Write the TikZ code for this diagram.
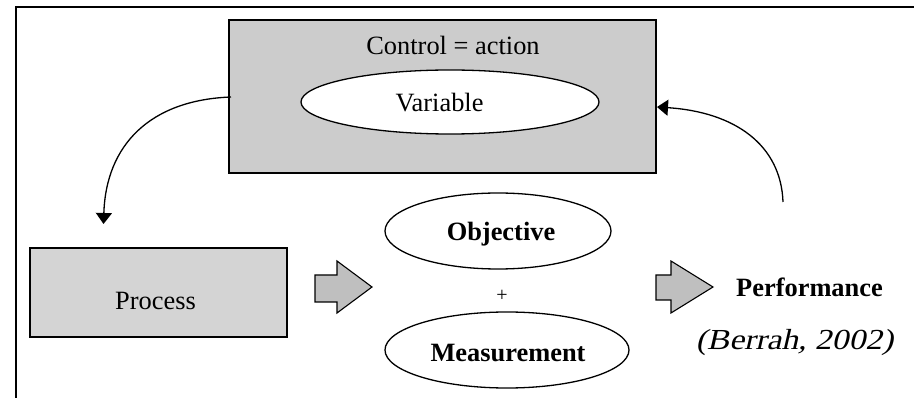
\documentclass[tikz,border=0pt]{standalone}
\usepackage{fontspec}
\setmainfont{Liberation Serif}
% slanted serif face for the citation
\newfontfamily\citefont{Liberation Serif}[FakeSlant=0.2]
\usetikzlibrary{shapes.geometric,arrows.meta}

\tikzset{
  txt/.style={anchor=base, inner sep=0pt, font=\fontsize{26.4}{30}\selectfont},
  greybox/.style={draw=black, line width=1.6pt, inner sep=0pt},
  oval/.style={ellipse, draw=black, fill=white, line width=1.3pt, inner sep=0pt},
  curved/.style={line width=1.3pt, -{Triangle[length=11pt,width=16pt]}},
  blockarrow/.style={draw=black, fill=black!25, line width=1.1pt, line join=miter}
}

\begin{document}
\begin{tikzpicture}[x=1pt,y=-1pt]
  \useasboundingbox (0,0) rectangle (914,398);

  % outer frame (open to the right and bottom)
  \draw[line width=1.6pt] (920,7) -- (16,7) -- (16,404);

  % control block
  \node[greybox, fill=black!20, minimum width=427pt, minimum height=153pt] (ctrl) at (442.5,96.5) {};
  \node[txt] (ctrltxt) at (453,55) {Control = action};
  \node[oval, minimum width=298pt, minimum height=64pt] (var) at (450,102) {};
  \node[txt] (vartxt) at (439.5,112) {Variable};

  % process block
  \node[greybox, fill=black!17, minimum width=257pt, minimum height=89pt] (proc) at (158.5,292.5) {};
  \node[txt] (proctxt) at (155.5,310) {Process};

  % objective + measurement
  \node[oval, minimum width=226pt, minimum height=76pt] (obj) at (498,231) {};
  \node[txt, font=\fontsize{26.4}{30}\selectfont\bfseries] (objtxt) at (501,241) {Objective};
  \node[txt, font=\fontsize{20}{24}\selectfont] (plus) at (502,302) {+};
  \node[oval, minimum width=244pt, minimum height=76pt] (meas) at (507,350) {};
  \node[txt, font=\fontsize{26.4}{30}\selectfont\bfseries] (meastxt) at (508,362) {Measurement};

  % performance
  \node[txt, font=\fontsize{26.4}{30}\selectfont\bfseries] (perf) at (809.5,297) {Performance};
  \node[txt] (src) at (794.5,350) {\scalebox{1.27}[1.1]{\citefont (Berrah, 2002)}};

  % block arrows
  \path[blockarrow] (315,275) -- (337,275) -- (337,261) -- (372,287) -- (337,313)
        -- (337,302) -- (315,302) -- cycle;
  \path[blockarrow] (656,275) -- (671,275) -- (671,261) -- (713,287) -- (671,313)
        -- (671,300) -- (656,300) -- cycle;

  % feedback loop
  \coordinate (outL) at (231,97);
  \coordinate (inP) at (103.5,224);
  \coordinate (fromPerf) at (783,202);
  \coordinate (inR) at (657,107);
  \draw[curved] (outL) .. controls (150,100) and (106,145) .. (inP);
  \draw[curved] (fromPerf) .. controls (781,145) and (735,112) .. (inR);
\end{tikzpicture}
\end{document}
